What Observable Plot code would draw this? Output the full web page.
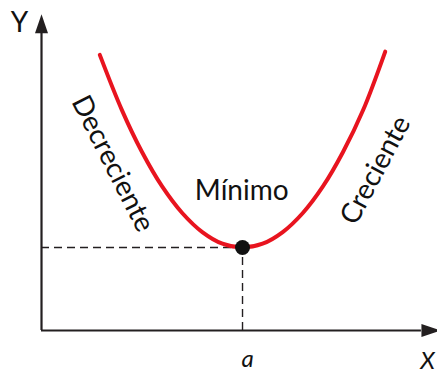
<!DOCTYPE html>
<html>
<head>
<meta charset="utf-8">
<script src="https://cdn.jsdelivr.net/npm/d3@7"></script>
<script src="https://cdn.jsdelivr.net/npm/@observablehq/plot@0.6"></script>
<style>
  html, body { margin: 0; padding: 0; background: #fff; }
  svg { display: block; }
</style>
</head>
<body>
<div id="chart"></div>
<script>
// Curve samples (abstract units, origin at the axes' corner)
const curveX = [1.45, 2.0, 2.5, 3.0, 3.5, 4.0, 4.5, 5.0, 5.5, 6.0, 6.5, 7.0, 7.5, 8.0, 8.55];
const curveY = [6.64, 5.31, 4.30, 3.47, 2.83, 2.37, 2.09, 2.00, 2.09, 2.37, 2.83, 3.47, 4.30, 5.31, 6.72];
// Minimum point
const minX = [5.0];
const minY = [2.0];
// Axis extents
const axisXEnd = [9.45];
const axisYEnd = [7.16];
// Labels
const axisLabels = ["X", "Y"];
const tickLabels = ["a"];
const regionLabels = ["Decreciente", "Mínimo", "Creciente"];
const regionX = [1.77, 4.98, 8.31];
const regionY = [4.02, 3.37, 3.86];
const regionRotate = [63, 0, -62];

const curve = curveX.map((x, i) => ({x, y: curveY[i]}));
const regions = regionLabels.map((t, i) => ({t, x: regionX[i], y: regionY[i], r: regionRotate[i]}));

const arrowHead = {
  draw(ctx) {
    ctx.moveTo(0, -19);
    ctx.lineTo(6.5, 0);
    ctx.lineTo(-6.5, 0);
    ctx.closePath();
  }
};

const ink = "#231f20";
const font = "Lato, 'Open Sans', sans-serif";

const chart = Plot.plot({
  width: 437,
  height: 374,
  margin: 0,
  x: {domain: [-1.02, 9.85], axis: null},
  y: {domain: [-1.06, 7.95], axis: null},
  style: {fontFamily: font, background: "#fff"},
  marks: [
    // dashed guides to the minimum
    Plot.ruleY(minY, {x1: 0, x2: minX[0], stroke: ink, strokeWidth: 1.4, strokeDasharray: "8,5"}),
    Plot.ruleX(minX, {y1: 0, y2: minY[0], stroke: ink, strokeWidth: 1.4, strokeDasharray: "8,5"}),
    // axes
    Plot.ruleY([0], {x1: 0, x2: axisXEnd[0], stroke: ink, strokeWidth: 2.2}),
    Plot.ruleX([0], {y1: 0, y2: axisYEnd[0], stroke: ink, strokeWidth: 2.2}),
    Plot.dot([{x: axisXEnd[0], y: 0}], {x: "x", y: "y", symbol: arrowHead, rotate: 90, fill: ink, stroke: "none"}),
    Plot.dot([{x: 0, y: axisYEnd[0]}], {x: "x", y: "y", symbol: arrowHead, rotate: 0, fill: ink, stroke: "none"}),
    // curve
    Plot.line(curve, {x: "x", y: "y", curve: "catmull-rom", stroke: "#e8141f", strokeWidth: 4}),
    // minimum dot
    Plot.dot(minX.map((x, i) => ({x, y: minY[i]})), {x: "x", y: "y", r: 7.5, fill: "#111", stroke: "none"}),
    // region labels
    Plot.text(regions, {x: "x", y: "y", text: "t", rotate: "r", fontSize: 28, fill: "#111"}),
    // axis labels
    Plot.text([{t: axisLabels[1], x: -0.55, y: 7.4}], {x: "x", y: "y", text: "t", fontSize: 28, fill: "#111"}),
    Plot.text([{t: axisLabels[0], x: 9.6, y: -0.74}], {x: "x", y: "y", text: "t", fontSize: 24, fill: "#111", fontStyle: "italic"}),
    Plot.text([{t: tickLabels[0], x: minX[0], y: -0.7}], {x: "x", y: "y", text: "t", dx: 5, fontSize: 24, fill: "#111", fontStyle: "italic"})
  ]
});
document.getElementById("chart").append(chart);
</script>
</body>
</html>
